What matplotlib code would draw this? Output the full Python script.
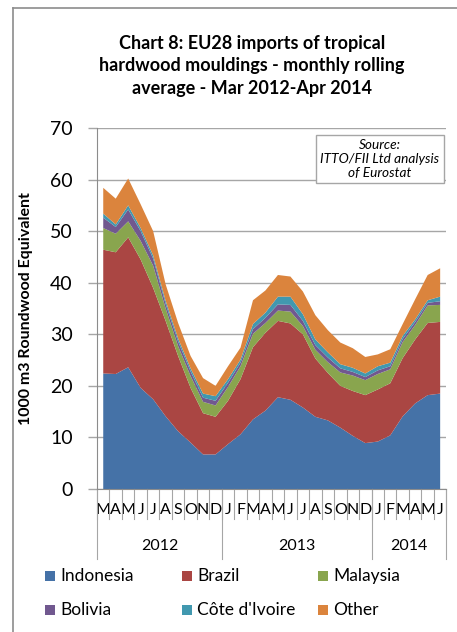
import numpy as np
import matplotlib
matplotlib.use("Agg")
import matplotlib.pyplot as plt
from matplotlib.lines import Line2D
from matplotlib.patches import Rectangle

plt.rcParams['font.family'] = ['Lato', 'DejaVu Sans']

# Data: monthly rolling average, Mar 2012 - Jun 2014 (1000 m3 RWE)
months = ["M", "A", "M", "J", "J", "A", "S", "O", "N", "D",
          "J", "F", "M", "A", "M", "J", "J", "A", "S", "O", "N", "D",
          "J", "F", "M", "A", "M", "J"]
years = ["2012", "2013", "2014"]
year_counts = [10, 12, 6]

indonesia = [22.4, 22.3, 23.6, 19.6, 17.4, 14.1, 11.2, 9.0, 6.7, 6.7,
             8.7, 10.6, 13.5, 15.2, 17.8, 17.3, 15.8, 14.0, 13.3, 11.9,
             10.3, 8.9, 9.2, 10.4, 14.1, 16.6, 18.2, 18.5]
brazil = [24.0, 23.6, 25.2, 24.9, 21.6, 18.5, 14.6, 10.6, 8.0, 7.3,
          8.4, 10.7, 14.0, 15.1, 14.8, 14.8, 14.2, 11.3, 9.2, 8.1,
          8.7, 9.3, 10.1, 10.1, 11.3, 12.4, 14.0, 13.9]
malaysia = [4.2, 3.6, 3.1, 3.6, 4.3, 2.4, 1.9, 2.3, 2.2, 2.2,
            2.7, 2.5, 2.6, 1.9, 2.0, 2.3, 1.6, 1.7, 2.1, 2.6,
            3.0, 2.9, 3.0, 2.7, 3.1, 2.8, 3.4, 3.3]
bolivia = [2.0, 1.3, 2.3, 1.9, 1.4, 0.9, 0.9, 0.9, 0.8, 0.9,
           0.8, 0.7, 0.9, 1.0, 1.2, 1.3, 1.0, 0.9, 0.9, 0.8,
           0.7, 0.6, 0.7, 0.6, 0.6, 0.6, 0.5, 0.7]
cote_divoire = [0.8, 0.5, 0.8, 0.6, 0.6, 0.6, 0.6, 0.6, 0.8, 0.9,
                0.7, 0.6, 1.0, 1.0, 1.5, 1.6, 1.3, 1.1, 1.0, 0.8,
                0.8, 0.7, 0.8, 0.7, 0.6, 0.5, 0.5, 0.9]
other = [5.0, 5.0, 5.2, 4.6, 4.7, 3.2, 3.0, 2.4, 3.0, 2.0,
         2.5, 2.3, 4.6, 4.3, 4.2, 3.9, 4.4, 4.7, 4.3, 4.2,
         3.8, 3.2, 2.3, 2.6, 2.3, 3.9, 4.9, 5.5]

labels = ["Indonesia", "Brazil", "Malaysia", "Bolivia", "Côte d'Ivoire", "Other"]
colors = ["#4572A7", "#AA4643", "#89A54E", "#71588F", "#4198AF", "#DB843D"]

W, H = 457, 632
fig = plt.figure(figsize=(W / 100, H / 100), dpi=100)

# outer chart border (left and top visible)
fig.add_artist(Line2D([13 / W, 13 / W], [0, 1 - 8 / H], color="#8c8c8c", lw=1.2))
fig.add_artist(Line2D([13 / W, 1], [1 - 8 / H, 1 - 8 / H], color="#8c8c8c", lw=1.2))

ax_l, ax_r, ax_t, ax_b = 97, 446.4, 128, 489
ax = fig.add_axes([ax_l / W, 1 - ax_b / H, (ax_r - ax_l) / W, (ax_b - ax_t) / H])

x = np.arange(len(months))
ax.stackplot(x, indonesia, brazil, malaysia, bolivia, cote_divoire, other,
             colors=colors, linewidth=0)

ax.set_xlim(-0.5, len(months) - 0.5)
ax.set_ylim(0, 70)
ax.set_yticks(range(0, 71, 10))
ax.yaxis.grid(True, color="#a6a6a6", lw=1)
ax.set_axisbelow(True)
for s in ["top", "right"]:
    ax.spines[s].set_visible(False)
for s in ["left", "bottom"]:
    ax.spines[s].set_color("#8c8c8c")
ax.tick_params(axis="y", length=6.5, width=1, color="#a6a6a6", pad=11,
               labelsize=14)
ax.set_xticks(x)
ax.set_xticklabels(months, fontsize=11.5)
ax.tick_params(axis="x", length=0, pad=10)

ax.set_ylabel("1000 m3 Roundwood Equivalent", fontsize=11.5, fontweight="bold",
              labelpad=12)

# category separators (multi-level axis)
trans = ax.get_xaxis_transform()
px = 1 / (ax_b - ax_t)
for i in range(len(months) + 1):
    ax.add_line(Line2D([i - 0.5, i - 0.5], [0, -30 * px], transform=trans,
                       color="#a6a6a6", lw=0.8, clip_on=False))
start = 0
for yr, n in zip(years, year_counts):
    ax.add_line(Line2D([start - 0.5, start - 0.5], [0, -70 * px], transform=trans,
                       color="#a6a6a6", lw=0.8, clip_on=False))
    ax.text(start + n / 2 - 0.5, -57 * px, yr, transform=trans, ha="center",
            va="center", fontsize=11.5)
    start += n
ax.add_line(Line2D([start - 0.5, start - 0.5], [0, -70 * px], transform=trans,
                   color="#a6a6a6", lw=0.8, clip_on=False))

# source box
fig.text(380 / W, 1 - 159 / H, "Source:\nITTO/FII Ltd analysis\nof Eurostat",
         ha="center", va="center", fontsize=9.8, style="italic",
         linespacing=1.2,
         bbox=dict(boxstyle="square,pad=0.3", fc="white", ec="#a6a6a6", lw=1))

# title
fig.text(252 / W, 1 - 66 / H,
         "Chart 8: EU28 imports of tropical\nhardwood mouldings - monthly rolling\naverage - Mar 2012-Apr 2014",
         ha="center", va="center", fontsize=13, fontweight="bold",
         linespacing=1.4)

# legend, laid out row by row as in the original
col_x = [45, 182, 318]
row_y = [576, 610]
for k, (lab, col) in enumerate(zip(labels, colors)):
    cx = col_x[k % 3]
    cy = row_y[k // 3]
    fig.add_artist(Rectangle((cx / W, 1 - (cy + 5) / H), 10 / W, 10 / H,
                             facecolor=col, edgecolor="none"))
    fig.text((cx + 15) / W, 1 - cy / H, lab, ha="left", va="center",
             fontsize=12.5)

fig.savefig("out.png", dpi=100)
